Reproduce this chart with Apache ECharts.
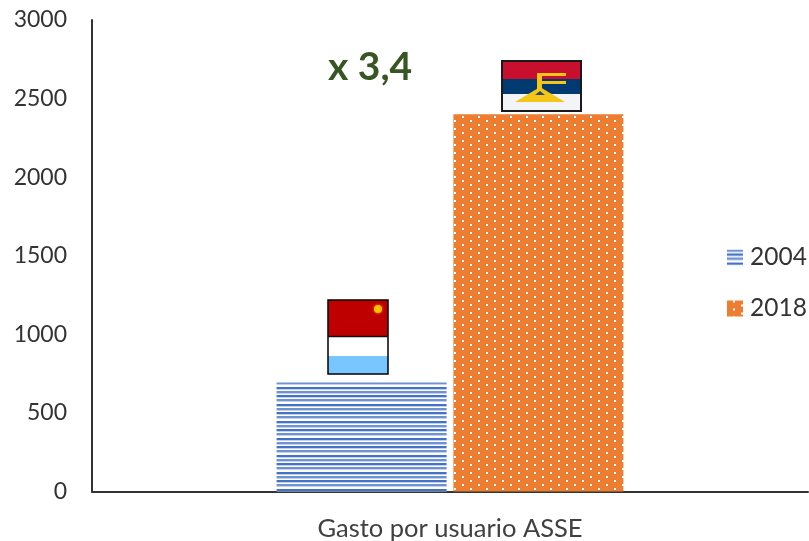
<!DOCTYPE html>
<html><head><meta charset="utf-8">
<style>html,body{margin:0;padding:0;background:#fff}#c{width:809px;height:541px}</style>
<script src="https://cdn.jsdelivr.net/npm/echarts@6/dist/echarts.min.js"></script>
</head><body><div id="c"></div>
<script>
const categories = ['Gasto por usuario ASSE'];
const values2004 = [694];
const values2018 = [2401];
const yTicks = {min:0,max:3000,interval:500};
const multiplierLabel = 'x 3,4';

function stripes(){
  const c=document.createElement('canvas');c.width=8;c.height=17;
  const x=c.getContext('2d');
  x.fillStyle='#fff';x.fillRect(0,0,8,17);
  [0,4,8,13].forEach((y,i)=>{
    x.fillStyle=i%2?'#4472C4':'#6f92d2';x.fillRect(0,y,8,2);
    x.fillStyle='#c3d1ec';x.fillRect(0,y+2,8,1);
  });
  return c;
}
function dots(){
  const c=document.createElement('canvas');c.width=16;c.height=8;
  const x=c.getContext('2d');
  x.fillStyle='#ED7D31';x.fillRect(0,0,16,8);
  x.fillStyle='#fff';
  x.fillRect(6,0,2,2);x.fillRect(14,4,2,2);
  return c;
}
const chart=echarts.init(document.getElementById('c'),null,{renderer:'canvas'});
const font='Lato';
chart.setOption({
  animation:false,
  backgroundColor:'#fff',
  textStyle:{fontFamily:font},
  grid:{left:92,right:1,top:20,bottom:49.5,containLabel:false,outerBoundsMode:'none'},
  legend:{
    orient:'vertical',left:727,top:245,padding:0,itemWidth:16,itemHeight:16,itemGap:26,
    icon:'rect',
    textStyle:{fontSize:24.5,color:'#333',fontFamily:font,padding:[0,0,0,2]},
    data:['2004','2018']
  },
  xAxis:{type:'category',data:categories,
    axisTick:{show:false},
    axisLine:{lineStyle:{color:'#333',width:2}},
    axisLabel:{fontSize:25.5,color:'#404040',margin:24,fontFamily:font}},
  yAxis:{type:'value',min:yTicks.min,max:yTicks.max,interval:yTicks.interval,
    splitLine:{show:false},
    axisTick:{show:false},
    axisLine:{show:true,lineStyle:{color:'#333',width:2}},
    axisLabel:{fontSize:23,color:'#333',margin:25,padding:[2,0,0,0],fontFamily:font,formatter:v=>String(v)}},
  series:[
    {name:'2004',type:'bar',data:values2004,barWidth:170,barGap:'4%',
     itemStyle:{color:{image:stripes(),repeat:'repeat'}}},
    {name:'2018',type:'bar',data:values2018,barWidth:170,
     itemStyle:{color:{image:dots(),repeat:'repeat'}}}
  ],
  graphic:{elements:[
    {type:'text',left:328,top:48,style:{text:multiplierLabel,fontSize:39,fontWeight:'bold',fill:'#375623',fontFamily:font}},
    // flag 2004
    {type:'rect',shape:{x:328,y:300,width:60,height:37},style:{fill:'#BE0000'}},
    {type:'rect',shape:{x:328,y:337,width:60,height:19},style:{fill:'#fff'}},
    {type:'rect',shape:{x:328,y:356,width:60,height:18},style:{fill:'#79C5FF'}},
    {type:'rect',shape:{x:328,y:300,width:60,height:74},style:{fill:'none',stroke:'#000',lineWidth:1.5}},
    {type:'line',shape:{x1:328,y1:336.5,x2:388,y2:336.5},style:{stroke:'#111',lineWidth:1.5}},
    {type:'circle',shape:{cx:378,cy:309,r:4},style:{fill:'#FFC000',shadowBlur:3,shadowColor:'#FF8000'}},
    // flag 2018
    {type:'rect',shape:{x:503,y:62,width:78,height:17},style:{fill:'#C8102E'}},
    {type:'rect',shape:{x:503,y:79,width:78,height:15},style:{fill:'#003A70'}},
    {type:'rect',shape:{x:503,y:94,width:78,height:17},style:{fill:'#F2F4F7'}},
    {type:'rect',shape:{x:537,y:73,width:5,height:16},style:{fill:'#F5C518'}},
    {type:'rect',shape:{x:537,y:73,width:29,height:3},style:{fill:'#F5C518'}},
    {type:'rect',shape:{x:537,y:81,width:29,height:3},style:{fill:'#F5C518'}},
    {type:'polygon',shape:{points:[[515,102],[540,87],[565,102]]},style:{fill:'#F5C518'}},
    {type:'polygon',shape:{points:[[535,95],[540,91],[545,95]]},style:{fill:'#2B4A6A'}},
    {type:'rect',shape:{x:502,y:61,width:79,height:50},style:{fill:'none',stroke:'#1a1a1a',lineWidth:2}}
  ]}
});
</script></body></html>
